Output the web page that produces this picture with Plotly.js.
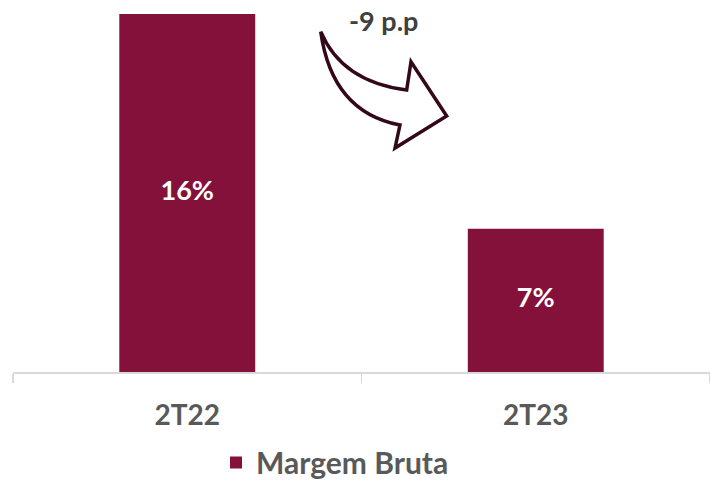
<!DOCTYPE html>
<html>
<head>
<meta charset="utf-8">
<script src="https://cdn.plot.ly/plotly-3.0.1.min.js"></script>
<style>html,body{margin:0;padding:0;background:#fff;}#chart{width:710px;height:482px;}</style>
</head>
<body>
<div id="chart"></div>
<script>
const categories = ["2T22", "2T23"];
const margemBruta = [16, 7];
const seriesName = "Margem Bruta";
const changeLabel = "-9 p.p";

const W = 710, H = 482;
const M = {l: 13, r: 0, t: 10, b: 110, autoexpand: false};
const pw = W - M.l - M.r, ph = H - M.t - M.b;
function px(x){ return (x - M.l) / pw; }
function py(y){ return (H - M.b - y) / ph; }
function P(x, y){ return px(x).toFixed(4) + "," + py(y).toFixed(4); }

const yMin = 1.0, yMax = 16.17;

// decorative curved arrow (pixel outline converted to paper coords)
const arrowPath = "M" + P(320.7, 31.7) +
  " Q" + P(342, 82) + " " + P(406.7, 90) +
  " L" + P(411, 61.7) +
  " L" + P(446.7, 116) +
  " L" + P(395, 148) +
  " L" + P(400, 125) +
  " Q" + P(332, 112) + " " + P(320.7, 31.7) + " Z";

const font = "Lato, 'Open Sans', sans-serif";
const barColor = "#84113A";

const data = [{
  type: "bar",
  x: categories,
  y: margemBruta,
  name: seriesName,
  marker: {color: barColor},
  textposition: "none",
  showlegend: true,
  hoverinfo: "skip"
}, {
  type: "scatter",
  mode: "text",
  x: categories,
  y: margemBruta.map(v => (v + yMin) / 2),
  text: margemBruta.map(v => v + "%"),
  textposition: "middle center",
  textfont: {family: font, size: 27, color: "#ffffff", weight: "bold"},
  showlegend: false,
  hoverinfo: "skip"
}];

const layout = {
  width: W, height: H,
  margin: M,
  paper_bgcolor: "#ffffff",
  plot_bgcolor: "#ffffff",
  bargap: 0.61,
  xaxis: {
    type: "category",
    range: [-0.5, 1.5],
    automargin: false,
    showline: true, linecolor: "#d9d9d9", linewidth: 1.5,
    ticks: "outside", tickson: "boundaries", ticklen: 9, tickcolor: "#d9d9d9", tickwidth: 1.5,
    ticklabelstandoff: 18,
    tickfont: {family: font, size: 28, color: "#595959", weight: "bold"},
    showgrid: false, zeroline: false, fixedrange: true
  },
  yaxis: {
    range: [yMin, yMax],
    automargin: false,
    visible: false, showgrid: false, zeroline: false, fixedrange: true
  },
  legend: {
    orientation: "h", x: 0.462, xanchor: "center", y: -0.25, yanchor: "middle",
    font: {family: font, size: 30, color: "#595959", weight: "bold"}
  },
  shapes: [{
    type: "path", xref: "paper", yref: "paper",
    path: arrowPath,
    fillcolor: "#ffffff",
    line: {color: "#33091a", width: 3.5}
  }],
  annotations: [{
    xref: "paper", yref: "paper",
    x: px(383), y: py(20), xanchor: "center", yanchor: "middle",
    text: changeLabel, showarrow: false,
    font: {family: font, size: 27, color: "#404040", weight: "bold"}
  }]
};

Plotly.newPlot("chart", data, layout, {displayModeBar: false, staticPlot: true});
</script>
</body>
</html>
